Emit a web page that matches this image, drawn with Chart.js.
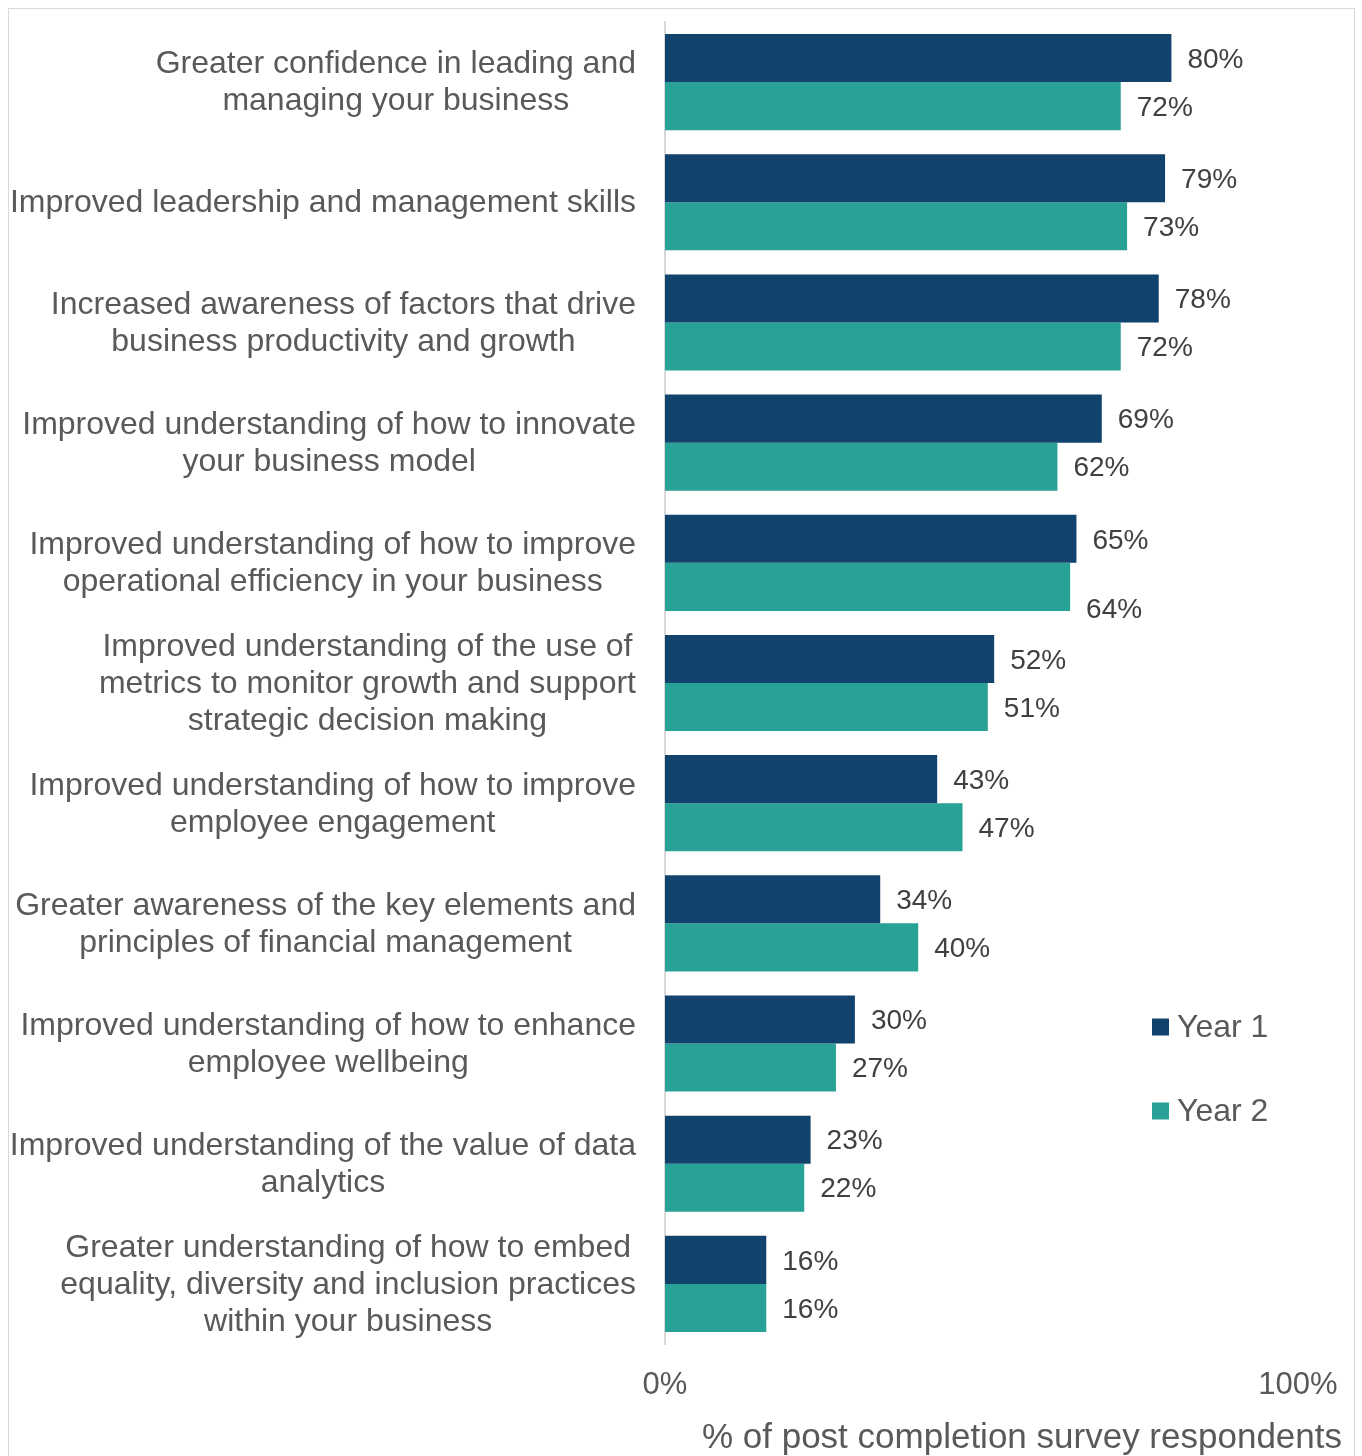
<!DOCTYPE html>
<html>
<head>
<meta charset="utf-8">
<script src="https://cdn.jsdelivr.net/npm/chart.js@4/dist/chart.umd.min.js"></script>
<style>
  body { margin: 0; background: #fff; }
  #frame { position: absolute; left: 8px; top: 8px; width: 1345px; height: 1460px; border: 1px solid #d9d9d9; }
  #chart { position: absolute; left: 0; top: 0; }
</style>
</head>
<body>
<div id="frame"></div>
<canvas id="chart" width="1362" height="1456"></canvas>
<script>
// outcome statements, one line per entry
const categories = [
    ["Greater confidence in leading and", "managing your business"],
    ["Improved leadership and management skills"],
    ["Increased awareness of factors that drive", "business productivity and growth"],
    ["Improved understanding of how to innovate", "your business model"],
    ["Improved understanding of how to improve", "operational efficiency in your business"],
    ["Improved understanding of the use of", "metrics to monitor growth and support", "strategic decision making"],
    ["Improved understanding of how to improve", "employee engagement"],
    ["Greater awareness of the key elements and", "principles of financial management"],
    ["Improved understanding of how to enhance", "employee wellbeing"],
    ["Improved understanding of the value of data", "analytics"],
    ["Greater understanding of how to embed", "equality, diversity and inclusion practices", "within your business"]
];
const seriesNames = ["Year 1", "Year 2"];
const year1 = [80, 79, 78, 69, 65, 52, 43, 34, 30, 23, 16];
const year2 = [72, 73, 72, 62, 64, 51, 47, 40, 27, 22, 16];
const xTicks = [0, 100];
const axisTitle = "% of post completion survey respondents";

const colours = ["#12436D", "#28A197"];
const FONT = "'Liberation Sans', Arial, sans-serif";

// labels, value tags, legend and axis title drawn by hand
const overlay = {
    id: "overlay",
    afterDraw(chart) {
        const ctx = chart.ctx;
        const y = chart.scales.y;
        const area = chart.chartArea;
        ctx.save();

        // category labels: block right-aligned, lines centred inside it
        ctx.font = "32px " + FONT;
        ctx.fillStyle = "#595959";
        ctx.textBaseline = "middle";
        ctx.textAlign = "center";
        const lineH = 37;
        categories.forEach((lines, i) => {
            const cy = y.getPixelForValue(i) + 1;
            const w = Math.max(...lines.map(l => ctx.measureText(l).width));
            const cx = area.left - 29 - w / 2;
            lines.forEach((l, k) => {
                ctx.fillText(l, cx, cy + (k - (lines.length - 1) / 2) * lineH);
            });
        });

        // value labels
        ctx.font = "28px " + FONT;
        ctx.fillStyle = "#404040";
        ctx.textAlign = "left";
        chart.data.datasets.forEach((ds, d) => {
            chart.getDatasetMeta(d).data.forEach((bar, i) => {
                let ty = bar.y + 2;
                // keep the two tags apart where bars are nearly equal
                if (d === 1 && i === 4) ty += 21;
                ctx.fillText(ds.data[i] + "%", bar.x + 16, ty);
            });
        });

        // legend
        ctx.font = "32px " + FONT;
        seriesNames.forEach((name, k) => {
            const ly = 1028 + k * 84;
            ctx.fillStyle = colours[k];
            ctx.fillRect(area.right - 146, ly - 9.5, 17, 17);
            ctx.fillStyle = "#595959";
            ctx.fillText(name, area.right - 121, ly);
        });

        // x axis title
        ctx.font = "35px " + FONT;
        ctx.textAlign = "right";
        ctx.fillText(axisTitle, 1342, 1438);
        ctx.restore();
    }
};

new Chart(document.getElementById("chart"), {
    type: "bar",
    data: {
        labels: categories,
        datasets: [
            { label: seriesNames[0], data: year1, backgroundColor: colours[0] },
            { label: seriesNames[1], data: year2, backgroundColor: colours[1] }
        ]
    },
    options: {
        indexAxis: "y",
        responsive: false,
        animation: false,
        layout: { padding: { left: 665, right: 64, top: 22, bottom: 0 } },
        datasets: { bar: { categoryPercentage: 0.8, barPercentage: 1.0 } },
        scales: {
            y: {
                grid: { display: false },
                border: { display: true, color: "#d9d9d9", width: 2 },
                ticks: { display: false },
                afterFit(scale) { scale.width = 0; }
            },
            x: {
                min: 0,
                max: 100,
                grid: { display: false, drawTicks: false },
                border: { display: false },
                afterBuildTicks(scale) { scale.ticks = xTicks.map(v => ({ value: v })); },
                ticks: {
                    padding: 23,
                    color: "#595959",
                    font: { family: FONT, size: 31 },
                    maxRotation: 0,
                    callback: v => v + "%"
                },
                afterFit(scale) { scale.height = 112; }
            }
        },
        plugins: {
            legend: { display: false },
            tooltip: { enabled: false }
        }
    },
    plugins: [overlay]
});
</script>
</body>
</html>
